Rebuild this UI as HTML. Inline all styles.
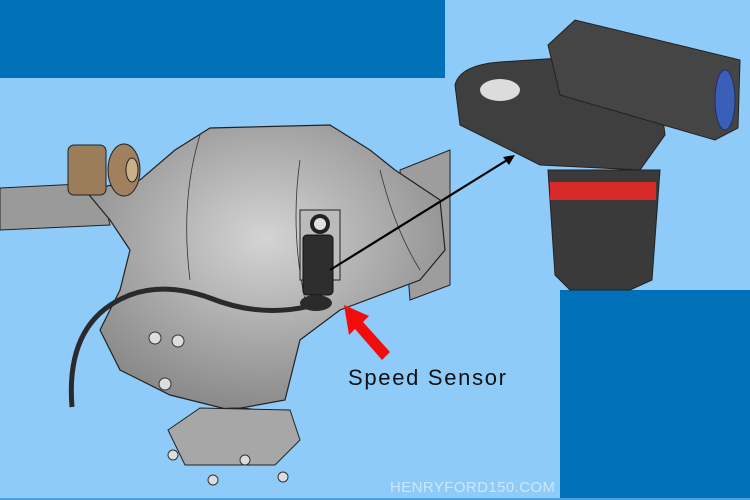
<!DOCTYPE html>
<html><head><meta charset="utf-8"><style>
html,body{margin:0;padding:0;width:750px;height:500px;overflow:hidden;background:#8fcbf8}
svg{display:block}
</style></head><body>
<svg width="750" height="500" viewBox="0 0 750 500" xmlns="http://www.w3.org/2000/svg">
<defs>
<radialGradient id="g" cx="0.5" cy="0.4" r="0.6"><stop offset="0" stop-color="#d4d4d4"/><stop offset="1" stop-color="#8a8a8a"/></radialGradient>
</defs>
<rect width="750" height="500" fill="#8fcbf8"/>
<rect x="0" y="0" width="445" height="78" fill="#0071b9"/>
<rect x="560" y="290" width="190" height="210" fill="#0071b9"/>
<rect x="0" y="498" width="750" height="2" fill="#4aa0dd"/>
<path d="M0 188 L60 185 L100 183 L110 225 L0 230 Z" fill="#9a9a9a" stroke="#222" stroke-width="1"/>
<path d="M400 170 L450 150 L450 285 L410 300 Z" fill="#9d9d9d" stroke="#222" stroke-width="1"/>
<path d="M85 190 L140 180 L175 150 L210 128 L330 125 L370 150 L395 170 L440 200 L445 250 L420 280 L340 310 L300 340 L285 400 L230 410 L170 395 L120 370 L100 330 L120 290 L130 250 L110 220 Z" fill="url(#g)" stroke="#222" stroke-width="1.2"/>
<path d="M200 135 Q180 200 190 280" fill="none" stroke="#333" stroke-width="0.8"/>
<path d="M300 160 Q290 230 305 300" fill="none" stroke="#333" stroke-width="0.8"/>
<path d="M380 170 Q395 230 420 270" fill="none" stroke="#333" stroke-width="0.8"/>
<rect x="68" y="145" width="38" height="50" rx="6" fill="#9b7d5c" stroke="#222"/>
<ellipse cx="124" cy="170" rx="16" ry="26" fill="#a0805e" stroke="#222"/>
<ellipse cx="132" cy="170" rx="6" ry="12" fill="#c9b08a" stroke="#222"/>
<ellipse cx="235" cy="420" rx="40" ry="12" fill="#666" stroke="#222"/>
<path d="M168 430 L200 408 L290 410 L300 440 L275 465 L185 465 Z" fill="#a7a7a7" stroke="#222"/>
<g fill="#ddd" stroke="#333">
<circle cx="173" cy="455" r="5"/><circle cx="213" cy="480" r="5"/><circle cx="245" cy="460" r="5"/><circle cx="283" cy="477" r="5"/>
<circle cx="155" cy="338" r="6"/><circle cx="178" cy="341" r="6"/><circle cx="165" cy="384" r="6"/>
</g>
<rect x="300" y="210" width="40" height="70" fill="#bbb" stroke="#222"/>
<circle cx="320" cy="224" r="10" fill="#222"/><circle cx="320" cy="224" r="6" fill="#e0e0e0"/>
<rect x="303" y="235" width="30" height="60" rx="4" fill="#2e2e2e" stroke="#111"/>
<ellipse cx="316" cy="303" rx="16" ry="8" fill="#2b2b2b"/>
<path d="M72 407 Q65 320 130 295 Q165 282 210 298 Q260 318 310 306" fill="none" stroke="#2a2a2a" stroke-width="5"/>
<line x1="330" y1="270" x2="512" y2="157" stroke="#000" stroke-width="2.2"/>
<path d="M515 155 L503 157 L509 165 Z" fill="#000"/>
<path d="M344 305 L349 335 L355 329 L382 360 L390 352 L363 322 L369 316 Z" fill="#f20d0d"/>
<text x="348" y="385" font-family="Liberation Sans, sans-serif" font-size="22" fill="#111" textLength="158" lengthAdjust="spacing">Speed Sensor</text>
<text x="390" y="492" font-family="Liberation Sans, sans-serif" font-size="15" fill="#cde6fb" textLength="165" lengthAdjust="spacing">HENRYFORD150.COM</text>
<path d="M455 85 Q460 65 500 62 L560 58 L600 80 L660 95 L665 135 L640 170 L540 165 L460 125 Z" fill="#3f3f3f" stroke="#222"/>
<ellipse cx="500" cy="90" rx="20" ry="11" fill="#dcdcdc"/>
<path d="M548 170 L660 170 L652 280 L630 290 L570 290 L555 275 Z" fill="#3a3a3a" stroke="#222"/>
<rect x="550" y="182" width="106" height="18" fill="#d92a2a"/>
<path d="M548 45 L575 20 L740 60 L738 128 L715 140 L560 95 Z" fill="#454545" stroke="#222"/>
<ellipse cx="725" cy="100" rx="10" ry="30" fill="#3a5fb8" stroke="#1f2f66"/>
</svg>
</body></html>
